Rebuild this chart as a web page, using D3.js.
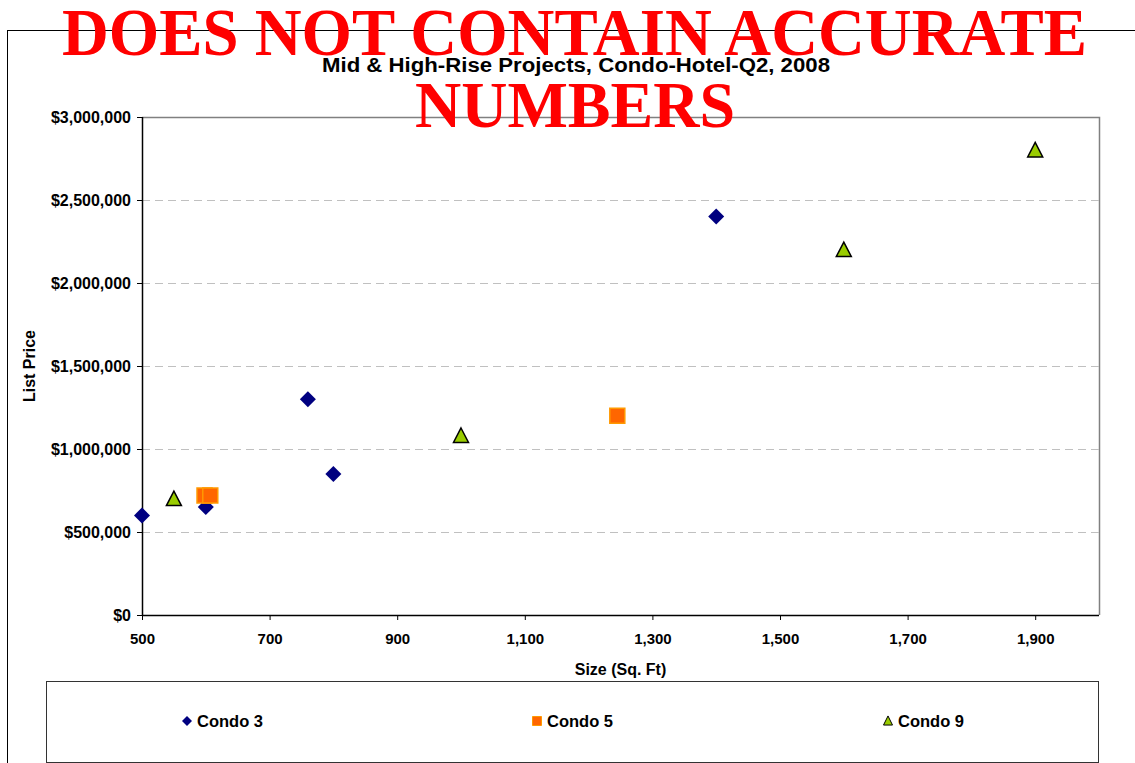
<!DOCTYPE html>
<html>
<head>
<meta charset="utf-8">
<script src="https://cdn.jsdelivr.net/npm/d3@7"></script>
<style>
  html, body { margin: 0; padding: 0; background: #fff; }
  svg { display: block; font-family: "Liberation Sans", Arial, sans-serif; }
</style>
</head>
<body>
<svg id="chart" width="1135" height="763"></svg>
<script>
// Series: size in sq. ft and list price for each project
const condo3Size  = [500, 600, 760, 800, 1400];
const condo3Price = [600000, 650000, 1300000, 850000, 2400000];
const condo5Size  = [598, 607, 1245];
const condo5Price = [720000, 720000, 1200000];
const condo9Size  = [550, 1000, 1600, 1900];
const condo9Price = [700000, 1080000, 2200000, 2800000];

const seriesNames = ["Condo 3", "Condo 5", "Condo 9"];
const xTicks = [500, 700, 900, 1100, 1300, 1500, 1700, 1900];
const yTicks = [0, 500000, 1000000, 1500000, 2000000, 2500000, 3000000];

const chartTitle = "Mid & High-Rise Projects, Condo-Hotel-Q2, 2008";
const xTitle = "Size (Sq. Ft)";
const yTitle = "List Price";
const stampLines = ["DOES NOT CONTAIN ACCURATE", "NUMBERS"];

const series = [
  { name: seriesNames[0], shape: "diamond",  fill: "#000080", stroke: "#000080", sw: 0,
    pts: condo3Size.map((s, i) => ({ x: s, y: condo3Price[i] })) },
  { name: seriesNames[1], shape: "square",   fill: "#FF6600", stroke: "#FF9900", sw: 1.5,
    pts: condo5Size.map((s, i) => ({ x: s, y: condo5Price[i] })) },
  { name: seriesNames[2], shape: "triangle", fill: "#99CC00", stroke: "#000000", sw: 1.5,
    pts: condo9Size.map((s, i) => ({ x: s, y: condo9Price[i] })) }
];

const svg = d3.select("#chart");
const plot = { left: 142, right: 1099, top: 117, bottom: 615 };

const x = d3.scaleLinear().domain([500, 2000]).range([plot.left, plot.right]);
const y = d3.scaleLinear().domain([0, 3000000]).range([plot.bottom, plot.top]);

// Marker outline centred on the origin; r is half the marker width
function markerPath(shape, r) {
  if (shape === "diamond") return `M0,${-r}L${r},0L0,${r}L${-r},0Z`;
  if (shape === "square") return `M${-r},${-r}H${r}V${r}H${-r}Z`;
  const h = r * 1.8;
  return `M0,${-h / 2 - 1}L${r},${h / 2}L${-r},${h / 2}Z`;
}

// Outer chart frame
svg.append("rect")
  .attr("x", 7.5).attr("y", 30.5)
  .attr("width", 1200).attr("height", 800)
  .attr("fill", "#fff").attr("stroke", "#000").attr("stroke-width", 1);

// Plot area frame (top and right edges are grey)
svg.append("path")
  .attr("d", `M${plot.left},${plot.top + 0.5}H${plot.right + 0.5}V${plot.bottom}`)
  .attr("fill", "none").attr("stroke", "#808080").attr("stroke-width", 1.5);

// Dashed horizontal gridlines
svg.append("g").selectAll("line")
  .data(yTicks.filter(t => t > 0 && t < 3000000))
  .join("line")
  .attr("x1", plot.left).attr("x2", plot.right)
  .attr("y1", d => Math.round(y(d)) + 0.5).attr("y2", d => Math.round(y(d)) + 0.5)
  .attr("stroke", "#c0c0c0").attr("stroke-width", 1)
  .attr("stroke-dasharray", "8,5");

// Axes
const money = d3.format("$,.0f");
const yAxis = svg.append("g")
  .attr("transform", `translate(${plot.left},0)`)
  .call(d3.axisLeft(y).tickValues(yTicks).tickFormat(money).tickSize(5).tickPadding(6));

const xAxis = svg.append("g")
  .attr("transform", `translate(0,${plot.bottom})`)
  .call(d3.axisBottom(x).tickValues(xTicks).tickFormat(d3.format(",")).tickSize(5).tickPadding(13));

[yAxis, xAxis].forEach(ax => {
  ax.select(".domain").attr("stroke", "#000").attr("stroke-width", 1.5);
  ax.selectAll(".tick line").attr("stroke", "#000");
  ax.selectAll(".tick text")
    .attr("fill", "#000")
    .style("font-family", "'Liberation Sans', Arial, sans-serif")
    .style("font-size", "15px").style("font-weight", "bold");
});
yAxis.selectAll(".tick text").style("font-size", "16px");
// x-axis baseline ends at the plot frame, no outer tick at the right
xAxis.select(".domain").attr("d", `M${plot.left},0.5H${plot.right}`);
yAxis.select(".domain").attr("d", `M0.5,${plot.top}V${plot.bottom}`);

// Axis titles
svg.append("text")
  .attr("x", (plot.left + plot.right) / 2).attr("y", 675)
  .attr("text-anchor", "middle")
  .style("font-size", "16px").style("font-weight", "bold")
  .text(xTitle);

svg.append("text")
  .attr("transform", `translate(35,${(plot.top + plot.bottom) / 2}) rotate(-90)`)
  .attr("text-anchor", "middle")
  .style("font-size", "16px").style("font-weight", "bold")
  .text(yTitle);

// Chart title
svg.append("text")
  .attr("x", 576).attr("y", 72)
  .attr("text-anchor", "middle")
  .attr("textLength", 508).attr("lengthAdjust", "spacingAndGlyphs")
  .style("font-size", "19.5px").style("font-weight", "bold")
  .text(chartTitle);

// Data markers
const marks = svg.append("g");
series.forEach(s => {
  const r = s.shape === "diamond" ? 8 : 7.5;
  marks.append("g").selectAll("path")
    .data(s.pts)
    .join("path")
    .attr("transform", d => `translate(${x(d.x)},${y(d.y)})`)
    .attr("d", markerPath(s.shape, r))
    .attr("fill", s.fill)
    .attr("stroke", s.sw ? s.stroke : "none")
    .attr("stroke-width", s.sw);
});

// Legend
svg.append("rect")
  .attr("x", 46.5).attr("y", 681.5)
  .attr("width", 1052).attr("height", 81)
  .attr("fill", "#fff").attr("stroke", "#333").attr("stroke-width", 1);

const legendX = [187, 537, 888];
const legend = svg.append("g").selectAll("g")
  .data(series)
  .join("g")
  .attr("transform", (d, i) => `translate(${legendX[i]},721)`);
legend.append("path")
  .attr("d", d => markerPath(d.shape, d.shape === "diamond" ? 5 : 4.5))
  .attr("fill", d => d.fill)
  .attr("stroke", d => d.sw ? d.stroke : "none")
  .attr("stroke-width", d => d.sw ? 1 : 0);
legend.append("text")
  .attr("x", 10).attr("y", 6)
  .style("font-size", "16.5px").style("font-weight", "bold")
  .text(d => d.name);

// Red stamp across the top
const stamp = svg.append("g")
  .style("font-family", "'Liberation Serif', 'Times New Roman', serif")
  .style("font-weight", "bold")
  .attr("fill", "#ff0000")
  .attr("text-anchor", "middle");
stamp.append("text")
  .attr("x", 574.5).attr("y", 55)
  .attr("textLength", 1025).attr("lengthAdjust", "spacingAndGlyphs")
  .style("font-size", "68px")
  .text(stampLines[0]);
stamp.append("text")
  .attr("x", 575).attr("y", 127)
  .attr("textLength", 320).attr("lengthAdjust", "spacingAndGlyphs")
  .style("font-size", "66px")
  .text(stampLines[1]);
</script>
</body>
</html>
